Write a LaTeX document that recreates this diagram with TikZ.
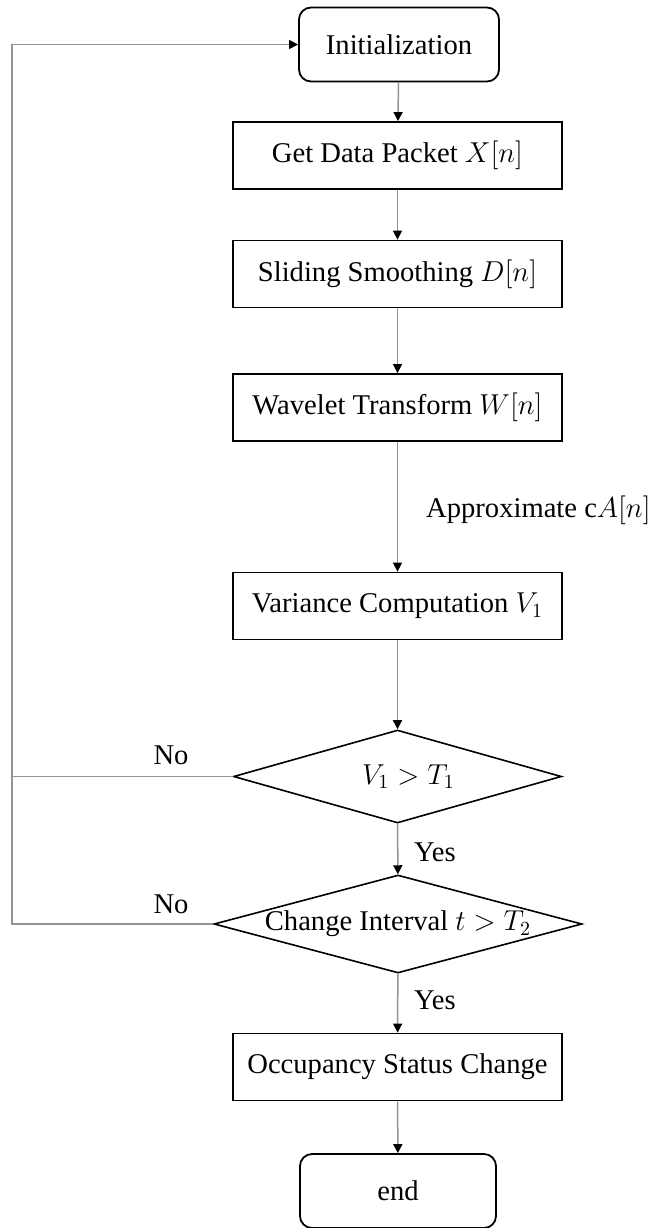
\documentclass[tikz,border=0pt]{standalone}
\usepackage{fontspec}
\setmainfont{Liberation Serif}
\usetikzlibrary{shapes.geometric,arrows.meta}

\begin{document}
\begin{tikzpicture}[x=0.5pt,y=-0.5pt,
  every node/.style={font=\fontsize{14.3}{17}\selectfont},
  procbox/.style={draw=black,line width=0.9pt,rectangle,inner sep=0pt,
    minimum width=164.5pt,minimum height=33.5pt},
  termbox/.style={draw=black,line width=0.9pt,rectangle,rounded corners=6pt,
    inner sep=0pt,minimum height=37pt},
  decision/.style={draw=black,line width=0.8pt,diamond,inner sep=0pt},
  conn/.style={draw=gray!85,line width=0.75pt,
    -{Triangle[color=black,length=4.5pt,width=4.5pt]}},
  plainconn/.style={draw=gray!85,line width=0.75pt},
  tag/.style={inner sep=0pt}
]
% page frame
\useasboundingbox (0,0) rectangle (654,1228);

% flow nodes
\node[termbox,minimum width=100pt] (init) at (399,44.5) {Initialization};
\node[procbox] (get)  at (397.5,155.5) {Get Data Packet $X[n]$};
\node[procbox] (slide) at (397.5,274) {Sliding Smoothing $D[n]$};
\node[procbox] (wave) at (397.5,407.5) {Wavelet Transform $W[n]$};
\node[procbox] (var)  at (397.5,606) {Variance Computation $V_1$};
\node[decision,minimum width=164pt,minimum height=46.5pt] (d1) at (397.5,776.5)
  {\makebox[0pt]{\hspace{11pt}$V_1 > T_1$}};
\node[decision,minimum width=184pt,minimum height=49pt] (d2) at (398,924)
  {\makebox[0pt]{Change Interval $t > T_2$}};
\node[procbox] (occ)  at (397.5,1067) {Occupancy Status Change};
\node[termbox,minimum width=98pt] (fin) at (398,1191) {end};

% loop-back corner points
\coordinate (back1) at (12,776.5);
\coordinate (back2) at (12,924);

% main sequence
\draw[conn] (init) -- (get);
\draw[conn] (get) -- (slide);
\draw[conn] (slide) -- (wave);
\draw[conn] (wave) -- (var);
\draw[conn] (var) -- (d1);
\draw[conn] (d1) -- (d2);
\draw[conn] (d2) -- (occ);
\draw[conn] (occ) -- (fin);

% "No" branches return to the start
\draw[plainconn] (d1.west) -- (back1);
\draw[conn] (d2.west) -- (back2) |- (init.west);

% labels
\node[tag,anchor=east] (approx) at (651,510) {Approximate c$A[n]$};
\node[tag] (no1) at (171,755) {No};
\node[tag] (no2) at (171,904) {No};
\node[tag] (yes1) at (435,852) {Yes};
\node[tag] (yes2) at (435,1000) {Yes};
\end{tikzpicture}
\end{document}
